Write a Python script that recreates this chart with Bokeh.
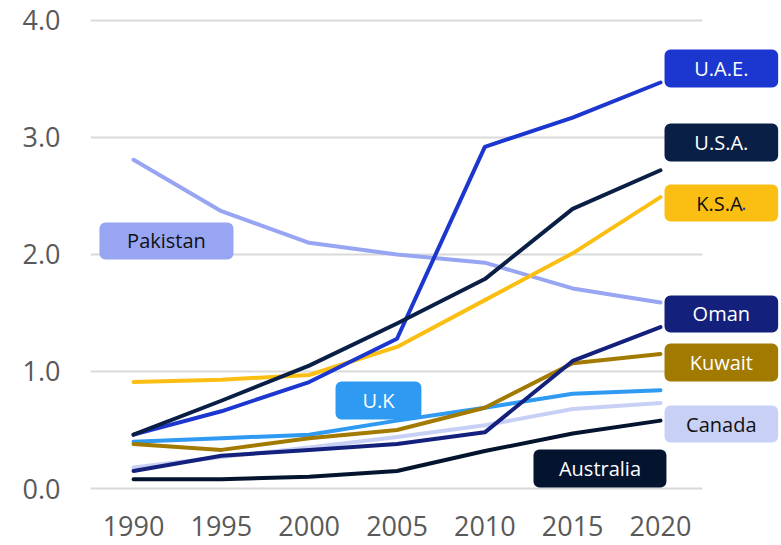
from bokeh.plotting import figure
from bokeh.models import Range1d, FixedTicker, BoxAnnotation, Label
from bokeh.embed import file_html
from bokeh.resources import INLINE

# ---- data ----
years = [1990, 1995, 2000, 2005, 2010, 2015, 2020]
countries = ["Canada", "U.K", "Pakistan", "Kuwait", "Oman", "Australia", "K.S.A.", "U.A.E.", "U.S.A."]
canada = [0.18, 0.27, 0.35, 0.44, 0.54, 0.68, 0.73]
uk = [0.40, 0.43, 0.46, 0.58, 0.69, 0.81, 0.84]
pakistan = [2.81, 2.37, 2.10, 2.00, 1.93, 1.71, 1.59]
kuwait = [0.38, 0.33, 0.43, 0.50, 0.69, 1.07, 1.15]
oman = [0.15, 0.28, 0.33, 0.38, 0.48, 1.09, 1.38]
australia = [0.08, 0.08, 0.10, 0.15, 0.32, 0.47, 0.58]
ksa = [0.91, 0.93, 0.97, 1.21, 1.61, 2.01, 2.49]
uae = [0.46, 0.66, 0.91, 1.28, 2.92, 3.17, 3.47]
usa = [0.46, 0.75, 1.05, 1.41, 1.79, 2.39, 2.72]
series = [canada, uk, pakistan, kuwait, oman, australia, ksa, uae, usa]

y_ticks = [0, 1, 2, 3, 4]
y_tick_labels = ["0.0", "1.0", "2.0", "3.0", "4.0"]
x_tick_labels = ["1990", "1995", "2000", "2005", "2010", "2015", "2020"]

# ---- styles ----
colors = {
    "Canada": "#C9D0F5", "U.K": "#2E9AF2", "Pakistan": "#97A5F3",
    "Kuwait": "#A27A00", "Oman": "#14217C", "Australia": "#04142F",
    "K.S.A.": "#FBBF14", "U.A.E.": "#1B37CF", "U.S.A.": "#0A1F45",
}
text_colors = {
    "Canada": "#111111", "U.K": "white", "Pakistan": "#111111",
    "Kuwait": "white", "Oman": "white", "Australia": "white",
    "K.S.A.": "#111111", "U.A.E.": "white", "U.S.A.": "white",
}
# label box positions (left, right, bottom, top) in data units
R0, R1 = 2020.23, 2026.70
boxes = {
    "U.A.E.": (R0, R1, 3.427, 3.752),
    "U.S.A.": (R0, R1, 2.795, 3.120),
    "K.S.A.": (R0, R1, 2.282, 2.598),
    "Oman": (R0, R1, 1.333, 1.650),
    "Kuwait": (R0, R1, 0.915, 1.239),
    "Canada": (R0, R1, 0.393, 0.709),
    "Australia": (2012.77, 2020.34, 0.009, 0.333),
    "Pakistan": (1988.06, 1995.69, 1.957, 2.274),
    "U.K": (2001.50, 2006.39, 0.590, 0.915),
}

p = figure(width=781, height=545, output_backend="svg", toolbar_location=None,
           x_range=Range1d(1987.55, 2026.89), y_range=Range1d(-0.1111, 4.1709),
           min_border_left=90, min_border_right=0, min_border_top=0,
           min_border_bottom=44)
p.outline_line_color = None
p.xgrid.visible = False
p.ygrid.visible = False
p.background_fill_color = "white"
p.border_fill_color = "white"

# manual grid lines (limited horizontal extent)
p.segment(x0=[1987.55] * len(y_ticks), x1=[2022.39] * len(y_ticks),
          y0=y_ticks, y1=y_ticks, line_color="#D9D9D9", line_width=2)

for name, vals in zip(countries, series):
    p.line(years, vals, line_color=colors[name], line_width=4,
           line_cap="round", line_join="round")

for name in ["U.A.E.", "U.S.A.", "K.S.A.", "Oman", "Kuwait", "Canada", "Australia", "Pakistan", "U.K"]:
    l, r, b, t = boxes[name]
    p.add_layout(BoxAnnotation(left=l, right=r, bottom=b, top=t,
                               fill_color=colors[name], fill_alpha=1.0,
                               line_color=None, border_radius=6))
    cx, cy = (l + r) / 2, (b + t) / 2
    if name == "K.S.A.":
        p.add_layout(Label(x=cx, y=cy, text="K.S.A", x_offset=-25, text_align="left",
                           text_baseline="middle", text_font="Open Sans",
                           text_font_size="20px", text_color=text_colors[name]))
        p.add_layout(Label(x=cx, y=cy, text=".", x_offset=20, text_align="left",
                           text_baseline="middle", text_font="Open Sans",
                           text_font_size="20px", text_color="#1B37CF"))
    else:
        p.add_layout(Label(x=cx, y=cy, text=name, text_align="center",
                           text_baseline="middle", text_font="Open Sans",
                           text_font_size="20px", text_color=text_colors[name]))

for ax in (p.xaxis[0], p.yaxis[0]):
    ax.axis_line_color = None
    ax.major_tick_line_color = None
    ax.minor_tick_line_color = None
    ax.major_tick_out = 0
    ax.major_tick_in = 0
    ax.major_label_text_font = "Open Sans"
    ax.major_label_text_font_size = "27px"
    ax.major_label_text_color = "#595959"

p.xaxis.ticker = FixedTicker(ticks=years)
p.xaxis.major_label_overrides = dict(zip(years, x_tick_labels))
p.xaxis.major_label_standoff = 14
p.yaxis.ticker = FixedTicker(ticks=y_ticks)
p.yaxis.major_label_overrides = dict(zip(y_ticks, y_tick_labels))
p.yaxis.major_label_standoff = 30

open("out.html", "w").write(file_html(p, INLINE))
